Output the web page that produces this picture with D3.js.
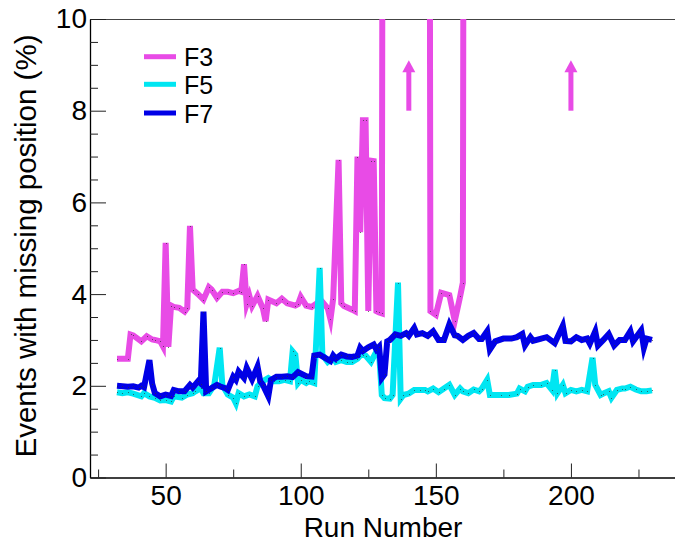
<!DOCTYPE html>
<html>
<head>
<meta charset="utf-8">
<script src="https://cdn.jsdelivr.net/npm/d3@7/dist/d3.min.js"></script>
<style>
  html, body { margin: 0; padding: 0; background: #fff; }
  svg { display: block; }
  text { font-family: "Liberation Sans", Arial, Helvetica, sans-serif; fill: #000; }
</style>
</head>
<body>
<svg id="chart" width="675" height="548"></svg>
<script>
// ---------------- data ----------------
const seriesNames = ["F3", "F5", "F7"];
const seriesColors = ["#e84be6", "#00e6f2", "#0000e6"];

const f3Runs = [32,36,37,38,41,43,45,46,48,49,50,51,52,53,55,57,58,59,60,62,64,66,67,69,71,73,75,77,78,79,80,81,82,84,86,87,88,91,93,95,98,99,100,102,104,106,108,110,111,112,114,115,116,119,120,121,122,123,124,125,126,127,128,129,130,131,147,148,150,152,155,157,159,160,161];
const f3Vals = [2.59,2.59,3.12,3.1,2.97,3.08,3.01,3.0,2.97,2.86,5.12,2.85,3.75,3.72,3.7,3.62,3.7,5.49,4.1,4.0,3.88,4.15,4.1,3.92,4.05,4.05,4.02,4.07,4.05,4.65,3.78,3.96,3.74,3.96,3.69,3.41,3.88,3.8,3.9,3.8,3.75,3.78,3.94,3.75,3.72,3.8,3.83,3.69,3.45,3.9,6.93,3.8,3.74,3.66,3.63,7.0,5.35,7.79,7.79,3.63,6.91,6.9,3.63,3.6,3.58,40,40,3.63,3.55,4.03,3.98,3.41,3.95,4.25,40];

const f5Runs = [32,34,36,38,41,42,44,46,48,50,52,53,56,58,60,61,63,64,66,68,70,71,73,75,76,77,79,81,83,84,86,88,90,92,94,96,97,98,99,100,102,103,105,107,108,110,112,113,115,117,119,121,122,123,124,126,128,129,130,131,133,134,136,137,138,140,142,144,146,147,149,151,153,155,157,159,160,162,164,166,167,169,170,174,177,180,181,183,184,186,189,191,193,194,195,197,198,200,202,204,206,208,209,211,212,214,215,217,219,220,222,224,226,228,230];
const f5Vals = [1.86,1.84,1.86,1.83,1.77,1.84,1.77,1.74,1.68,1.69,1.66,1.77,1.74,1.81,1.84,1.88,1.95,1.84,1.84,2.02,2.83,2.02,1.81,1.74,1.62,1.84,1.77,1.81,1.77,1.99,2.1,2.17,2.1,2.1,2.13,2.1,2.75,2.68,2.06,2.13,2.06,2.1,2.06,4.57,2.68,2.52,2.61,2.52,2.56,2.52,2.52,2.59,2.66,2.68,2.66,2.52,2.75,2.72,1.8,1.73,1.72,1.8,4.25,1.72,1.8,1.83,1.91,1.91,1.91,1.88,1.94,1.86,1.94,2.02,1.8,1.94,1.88,1.84,1.92,1.88,1.94,2.13,1.8,1.8,1.8,1.83,1.94,1.88,1.98,2.02,2.02,2.06,1.91,2.35,1.84,2.02,1.84,1.91,1.88,1.91,1.88,2.61,2.02,1.8,1.83,1.88,1.74,1.91,1.94,1.94,1.98,1.92,1.88,1.88,1.9];

const f7Runs = [32,34,36,38,40,41,42,44,45,46,48,50,52,53,55,57,59,60,62,63,64,65,67,69,70,72,73,75,76,77,79,80,82,84,85,86,88,89,91,93,95,97,99,102,104,105,107,109,111,112,113,115,117,119,121,122,123,125,127,128,129,130,131,132,133,135,137,139,140,142,143,145,147,149,151,153,155,157,158,160,162,164,166,167,169,170,172,175,178,180,182,183,185,186,189,191,194,197,198,200,202,204,206,207,209,210,212,214,216,218,220,222,223,225,226,227,228,230];
const f7Vals = [2.0,1.99,1.98,1.99,1.96,2.0,1.97,2.56,2.05,1.84,1.77,1.81,1.78,1.91,1.88,1.88,2.02,1.96,2.1,2.05,3.62,1.88,1.95,2.02,1.99,1.95,1.91,2.2,2.13,2.31,2.17,2.39,2.14,2.42,2.1,2.02,1.77,2.13,2.2,2.2,2.21,2.19,2.3,2.21,2.2,2.66,2.68,2.61,2.54,2.66,2.59,2.68,2.64,2.63,2.66,2.83,2.76,2.84,2.9,2.79,2.85,2.17,2.25,2.97,3.0,3.12,3.09,3.15,3.09,3.26,3.12,3.15,3.09,3.19,3.0,3.0,3.34,3.1,3.09,3.0,3.09,3.15,3.02,3.02,3.19,2.79,2.97,3.03,3.03,3.06,3.13,2.88,3.06,2.98,3.03,3.06,2.93,3.31,2.98,2.97,3.06,3.0,3.03,2.92,3.19,2.88,3.0,3.13,2.88,3.0,3.0,3.19,2.97,3.13,3.21,2.83,3.03,3.0];

// off-scale indicators (runs where F3 exceeds the frame)
const arrowRuns = [140, 200];
const arrowFrom = 8;
const arrowTo = 9.1;

const xMajorTicks = [50, 100, 150, 200];
const xMinorTicks = [25, 75, 125, 175, 225];
const yMajorTicks = [0, 2, 4, 6, 8, 10];
const yMinorTicks = [0.5,1,1.5,2.5,3,3.5,4.5,5,5.5,6.5,7,7.5,8.5,9,9.5];

const xTitle = "Run Number";
const yTitle = "Events with missing position (%)";

// ---------------- drawing ----------------
const svg = d3.select("#chart");
const pL = 90, pR = 679, pT = 19, pB = 477.5;

const x = d3.scaleLinear().domain([22, 240]).range([pL, pR]);
const y = d3.scaleLinear().domain([0, 10]).range([pB, pT]);

svg.append("defs").append("clipPath").attr("id", "frame")
  .append("rect").attr("x", pL).attr("y", pT).attr("width", pR - pL).attr("height", pB - pT);

// top frame line
svg.append("line").attr("x1", pL).attr("x2", pR).attr("y1", pT + 0.5).attr("y2", pT + 0.5)
  .attr("stroke", "#444").attr("stroke-width", 1);

const series = [
  { name: seriesNames[0], color: seriesColors[0], runs: f3Runs, vals: f3Vals },
  { name: seriesNames[1], color: seriesColors[1], runs: f5Runs, vals: f5Vals },
  { name: seriesNames[2], color: seriesColors[2], runs: f7Runs, vals: f7Vals }
];

const plot = svg.append("g").attr("clip-path", "url(#frame)");
const line = d3.line().x(d => x(d[0])).y(d => y(d[1]));

series.forEach(s => {
  const pts = s.runs.map((r, i) => [r, s.vals[i]]);
  plot.append("path").datum(pts)
    .attr("d", line)
    .attr("fill", "none")
    .attr("stroke", s.color)
    .attr("stroke-width", 6)
    .attr("stroke-linejoin", "miter")
    .attr("stroke-miterlimit", 6);
  plot.append("g").selectAll("rect").data(pts).join("rect")
    .attr("x", d => Math.round(x(d[0])))
    .attr("y", d => Math.round(y(d[1])))
    .attr("width", 1).attr("height", 1)
    .attr("fill", "#333").attr("opacity", 0.7);
});

// arrows
const arrows = svg.append("g");
arrowRuns.forEach(r => {
  const ax = x(r), y0 = y(arrowFrom), y1 = y(arrowTo);
  const headLen = 12, headW = 6.5;
  arrows.append("line").attr("x1", ax).attr("x2", ax).attr("y1", y0).attr("y2", y1 + headLen - 1)
    .attr("stroke", seriesColors[0]).attr("stroke-width", 5);
  arrows.append("path")
    .attr("d", `M${ax},${y1} L${ax - headW},${y1 + headLen} L${ax + headW},${y1 + headLen} Z`)
    .attr("fill", seriesColors[0]);
});

// axes
const xAxis = svg.append("g").attr("transform", `translate(0,${pB})`)
  .call(d3.axisBottom(x).tickValues(xMajorTicks).tickSizeInner(-14).tickSizeOuter(0).tickPadding(8).tickFormat(d3.format("d")));
svg.append("g").attr("transform", `translate(0,${pB})`)
  .call(d3.axisBottom(x).tickValues(xMinorTicks).tickSizeInner(-8).tickSizeOuter(0).tickFormat(""))
  .select(".domain").remove();

const yAxis = svg.append("g").attr("transform", `translate(${pL},0)`)
  .call(d3.axisLeft(y).tickValues(yMajorTicks).tickSizeInner(-16).tickSizeOuter(0).tickPadding(3).tickFormat(d3.format("d")));
svg.append("g").attr("transform", `translate(${pL},0)`)
  .call(d3.axisLeft(y).tickValues(yMinorTicks).tickSizeInner(-8).tickSizeOuter(0).tickFormat(""))
  .select(".domain").remove();

svg.selectAll(".domain").attr("stroke", "#000").attr("stroke-width", 1.3);
svg.selectAll(".tick line").attr("stroke", "#222").attr("stroke-width", 1);
xAxis.selectAll("text").attr("font-size", 28).attr("font-family", "Liberation Sans, Arial, sans-serif");
yAxis.selectAll("text").attr("font-size", 28).attr("font-family", "Liberation Sans, Arial, sans-serif");

// titles
svg.append("text").attr("x", 383).attr("y", 537).attr("text-anchor", "middle")
  .attr("font-size", 28).text(xTitle);
svg.append("text").attr("transform", "translate(36,246) rotate(-90)").attr("text-anchor", "middle")
  .attr("font-size", 29.5).text(yTitle);

// legend
const legend = svg.append("g");
const legY = [56.7, 84.3, 113];
series.forEach((s, i) => {
  legend.append("line").attr("x1", 144).attr("x2", 176).attr("y1", legY[i]).attr("y2", legY[i])
    .attr("stroke", s.color).attr("stroke-width", 5);
  legend.append("text").attr("x", 184).attr("y", legY[i] + 9.5).attr("font-size", 25).text(s.name);
});
</script>
</body>
</html>
